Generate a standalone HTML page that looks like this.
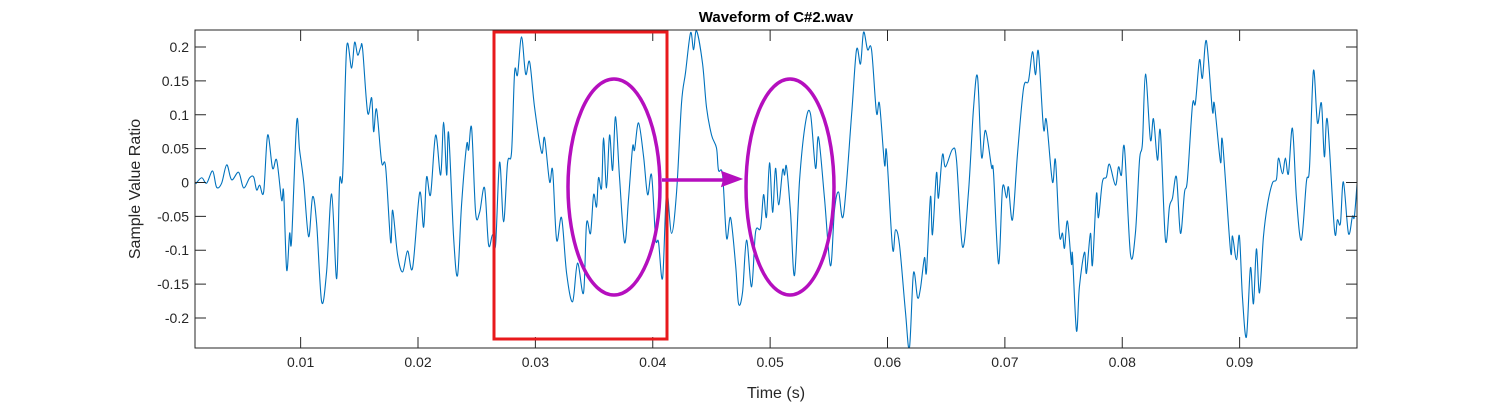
<!DOCTYPE html>
<html><head><meta charset="utf-8"><style>
html,body{margin:0;padding:0;background:#fff;}
svg{display:block;font-family:"Liberation Sans",Arial,sans-serif;}
</style></head><body>
<svg id="chart" width="1500" height="403" viewBox="0 0 1500 403" xmlns="http://www.w3.org/2000/svg">
<rect x="0" y="0" width="1500" height="403" fill="#fff"/>
<g id="plot"></g>
</svg>
<script>
const timeMs = [
1.06,1.57,1.99,2.50,2.84,3.27,3.70,4.12,4.72,5.14,
5.66,6.00,6.25,6.51,6.85,7.19,7.61,7.96,8.38,8.55,
8.81,9.06,9.23,9.66,9.91,10.26,10.68,11.02,11.36,11.79,
12.21,12.64,13.07,13.32,13.58,13.92,14.34,14.60,14.86,15.11,
15.28,15.71,16.05,16.22,16.47,16.90,17.24,17.67,17.84,18.26,
18.69,19.11,19.54,20.14,20.48,20.73,21.07,21.50,21.93,22.18,
22.44,22.61,23.03,23.37,23.71,24.14,24.31,24.57,24.91,25.25,
25.67,26.01,26.35,26.61,26.95,27.29,27.63,27.97,28.23,28.48,
28.82,29.17,29.51,29.93,30.53,30.78,31.21,31.47,31.81,32.23,
32.66,33.17,33.59,34.10,34.36,34.70,34.96,35.21,35.38,35.64,
35.81,36.06,36.32,36.58,36.83,37.17,37.60,37.94,38.28,38.45,
38.79,39.22,39.56,39.90,40.24,40.49,40.84,41.18,41.60,42.03,
42.45,42.79,43.22,43.48,43.73,44.24,44.58,45.01,45.43,45.60,
45.95,46.29,46.63,47.06,47.31,47.65,47.99,48.42,48.76,49.18,
49.44,49.69,49.95,50.21,50.46,50.72,51.06,51.23,51.40,51.74,
52.08,52.51,53.02,53.44,53.87,54.12,54.63,55.14,55.48,55.83,
56.25,56.94,57.36,57.70,57.96,58.30,58.64,59.06,59.32,59.75,
59.92,60.43,60.68,61.02,61.53,61.87,62.21,62.56,62.81,63.15,
63.32,63.66,63.83,64.17,64.34,64.68,64.94,65.54,65.88,66.39,
66.90,67.33,67.67,68.01,68.35,68.86,69.03,69.46,69.80,70.14,
70.31,70.65,71.07,71.59,72.01,72.35,72.61,72.86,73.29,73.54,
74.05,74.31,74.65,74.91,75.08,75.33,75.67,75.76,76.10,76.35,
76.78,76.95,77.29,77.46,77.80,77.97,78.31,78.65,78.91,79.42,
79.68,79.93,80.19,80.70,81.12,81.47,81.72,81.98,82.40,82.66,
83.00,83.25,83.68,84.02,84.28,84.62,84.96,85.30,85.55,85.98,
86.23,86.58,86.83,87.17,87.68,87.85,88.37,88.54,89.22,89.39,
89.73,89.98,90.24,90.58,90.92,91.18,91.43,91.69,92.03,92.37,
92.79,93.14,93.31,93.65,93.90,94.16,94.50,94.84,95.26,95.69,
95.95,96.29,96.63,96.97,97.22,97.48,98.08,98.33,98.59,98.84,
99.27,99.61,99.78,100.04
];
const amplitude = [
-0.002,0.007,-0.001,0.017,-0.007,-0.001,0.026,0.004,0.015,-0.008,
0.007,0.008,-0.011,-0.004,-0.014,0.070,0.021,0.033,-0.026,-0.014,
-0.129,-0.075,-0.085,0.089,0.048,0.001,-0.080,-0.021,-0.060,-0.176,
-0.132,-0.017,-0.142,0.001,0.011,0.199,0.169,0.207,0.188,0.199,
0.197,0.103,0.125,0.075,0.108,0.030,0.023,-0.088,-0.041,-0.107,
-0.132,-0.101,-0.126,-0.015,-0.066,0.008,-0.018,0.070,0.011,0.089,
0.011,0.073,-0.080,-0.137,-0.033,0.055,0.048,0.080,-0.045,-0.044,
-0.008,-0.092,-0.077,-0.092,0.030,-0.058,0.029,0.045,0.163,0.159,
0.215,0.160,0.178,0.111,0.044,0.066,0.001,0.018,-0.085,-0.052,
-0.134,-0.176,-0.119,-0.163,-0.060,-0.075,-0.018,-0.036,0.007,-0.008,
0.066,-0.008,0.070,0.018,0.097,0.007,-0.089,-0.023,0.052,0.048,
0.088,0.038,-0.018,0.011,-0.082,-0.088,-0.141,-0.014,-0.075,-0.014,
0.117,0.162,0.221,0.196,0.224,0.176,0.111,0.070,0.051,0.018,
0.011,-0.082,-0.052,-0.122,-0.179,-0.162,-0.085,-0.154,-0.073,-0.067,
-0.018,-0.051,0.029,-0.044,0.021,-0.033,0.018,0.011,0.023,-0.045,
-0.137,0.004,0.089,0.101,0.021,0.067,-0.023,-0.123,-0.041,-0.014,
-0.048,0.100,0.196,0.175,0.222,0.196,0.196,0.103,0.116,0.026,
0.045,-0.097,-0.070,-0.092,-0.191,-0.244,-0.134,-0.170,-0.156,-0.111,
-0.132,-0.021,-0.077,0.014,-0.023,0.041,0.023,0.049,0.033,-0.095,
-0.014,0.110,0.156,0.038,0.077,0.023,0.015,-0.120,-0.008,-0.023,
-0.007,-0.055,0.041,0.139,0.150,0.193,0.159,0.193,0.080,0.092,
0.001,0.033,-0.077,-0.075,-0.097,-0.057,-0.120,-0.107,-0.219,-0.154,
-0.103,-0.134,-0.075,-0.122,-0.017,-0.052,0.001,0.008,0.027,-0.004,
0.023,0.011,0.051,-0.106,-0.075,0.033,0.058,0.160,0.063,0.094,
0.033,0.075,-0.085,-0.036,-0.023,0.008,-0.075,-0.015,0.004,0.114,
0.117,0.181,0.154,0.209,0.106,0.116,0.030,0.061,-0.100,-0.079,
-0.114,-0.079,-0.169,-0.228,-0.126,-0.179,-0.098,-0.163,-0.080,-0.033,
-0.001,0.005,0.036,0.013,0.036,0.013,0.080,-0.023,-0.085,0.001,
0.021,0.165,0.088,0.117,0.038,0.092,-0.070,-0.055,-0.060,0.001,
-0.075,-0.050,-0.050,0.007
];
const xTicks = [0.01,0.02,0.03,0.04,0.05,0.06,0.07,0.08,0.09];
const xTickLabels = ["0.01","0.02","0.03","0.04","0.05","0.06","0.07","0.08","0.09"];
const yTicks = [-0.2,-0.15,-0.1,-0.05,0,0.05,0.1,0.15,0.2];
const yTickLabels = ["-0.2","-0.15","-0.1","-0.05","0","0.05","0.1","0.15","0.2"];
const xDomain = [0.001, 0.1];
const yDomain = [-0.2443, 0.2251];

const L=195, R=1357, T=30, B=348;
function sx(t){return L+(t-xDomain[0])/(xDomain[1]-xDomain[0])*(R-L);}
function sy(v){return B-(v-yDomain[0])/(yDomain[1]-yDomain[0])*(B-T);}
const NS="http://www.w3.org/2000/svg";
const g=document.getElementById('plot');
function mk(tag,attrs,parent){const e=document.createElementNS(NS,tag);for(const k in attrs)e.setAttribute(k,attrs[k]);(parent||g).appendChild(e);return e;}

// waveform (smoothed Catmull-Rom through the sampled points)
const pts=timeMs.map((t,i)=>[sx(t/1000), sy(amplitude[i])]);
let d='M'+pts[0][0].toFixed(2)+' '+pts[0][1].toFixed(2);
for(let i=0;i<pts.length-1;i++){
  const p0=pts[Math.max(0,i-1)], p1=pts[i], p2=pts[i+1], p3=pts[Math.min(pts.length-1,i+2)];
  const c1x=p1[0]+(p2[0]-p0[0])/6, c1y=p1[1]+(p2[1]-p0[1])/6;
  const c2x=p2[0]-(p3[0]-p1[0])/6, c2y=p2[1]-(p3[1]-p1[1])/6;
  d+='C'+c1x.toFixed(2)+' '+c1y.toFixed(2)+' '+c2x.toFixed(2)+' '+c2y.toFixed(2)+' '+p2[0].toFixed(2)+' '+p2[1].toFixed(2);
}
const clip=mk('clipPath',{id:'clipA'});
mk('rect',{x:L,y:T,width:R-L,height:B-T},clip);
const line=mk('path',{d:d,fill:'none',stroke:'#0072BD','stroke-width':1.1,'stroke-linejoin':'round','clip-path':'url(#clipA)'});



// axes box
const box=mk('rect',{x:L,y:T,width:R-L,height:B-T,fill:'none',stroke:'#262626','stroke-width':1});



xTicks.forEach((t,i)=>{
  const x=sx(t);
  mk('line',{x1:x,y1:B,x2:x,y2:B-11,stroke:'#262626','stroke-width':1});
  mk('line',{x1:x,y1:T,x2:x,y2:T+11,stroke:'#262626','stroke-width':1});
  const tx=mk('text',{x:x,y:B+19,'text-anchor':'middle','font-size':14,fill:'#262626'});
  tx.textContent=xTickLabels[i];
  
  
});
yTicks.forEach((v,i)=>{
  const y=sy(v);
  mk('line',{x1:L,y1:y,x2:L+11,y2:y,stroke:'#262626','stroke-width':1});
  mk('line',{x1:R,y1:y,x2:R-11,y2:y,stroke:'#262626','stroke-width':1});
  const tx=mk('text',{x:L-6,y:y+5,'text-anchor':'end','font-size':14,fill:'#262626'});
  tx.textContent=yTickLabels[i];
  
  
});

// annotations
const rect=mk('rect',{x:494,y:32,width:173,height:307,fill:'none',stroke:'#e8191c','stroke-width':3});


const e1=mk('ellipse',{cx:614,cy:187,rx:46,ry:108,fill:'none',stroke:'#b50fbe','stroke-width':3.5});


const e2=mk('ellipse',{cx:790,cy:187,rx:44,ry:108,fill:'none',stroke:'#b50fbe','stroke-width':3.5});


const arr=mk('path',{d:'M662 180 L730 180',stroke:'#b50fbe','stroke-width':3.5,fill:'none'});


const ah=mk('path',{d:'M741 179 L722 172 L724 179 L722 186 Z',fill:'#b50fbe',stroke:'#b50fbe','stroke-width':1.5});



// titles
const title=mk('text',{x:776,y:22,'text-anchor':'middle','font-size':15,'font-weight':'bold',fill:'#000'});
title.textContent='Waveform of C#2.wav';


const xl=mk('text',{x:776,y:398,'text-anchor':'middle','font-size':16,fill:'#262626'});
xl.textContent='Time (s)';


const yl=mk('text',{x:0,y:0,'text-anchor':'middle','font-size':16,fill:'#262626',transform:'translate(140 189) rotate(-90)'});
yl.textContent='Sample Value Ratio';


</script>
</body></html>
